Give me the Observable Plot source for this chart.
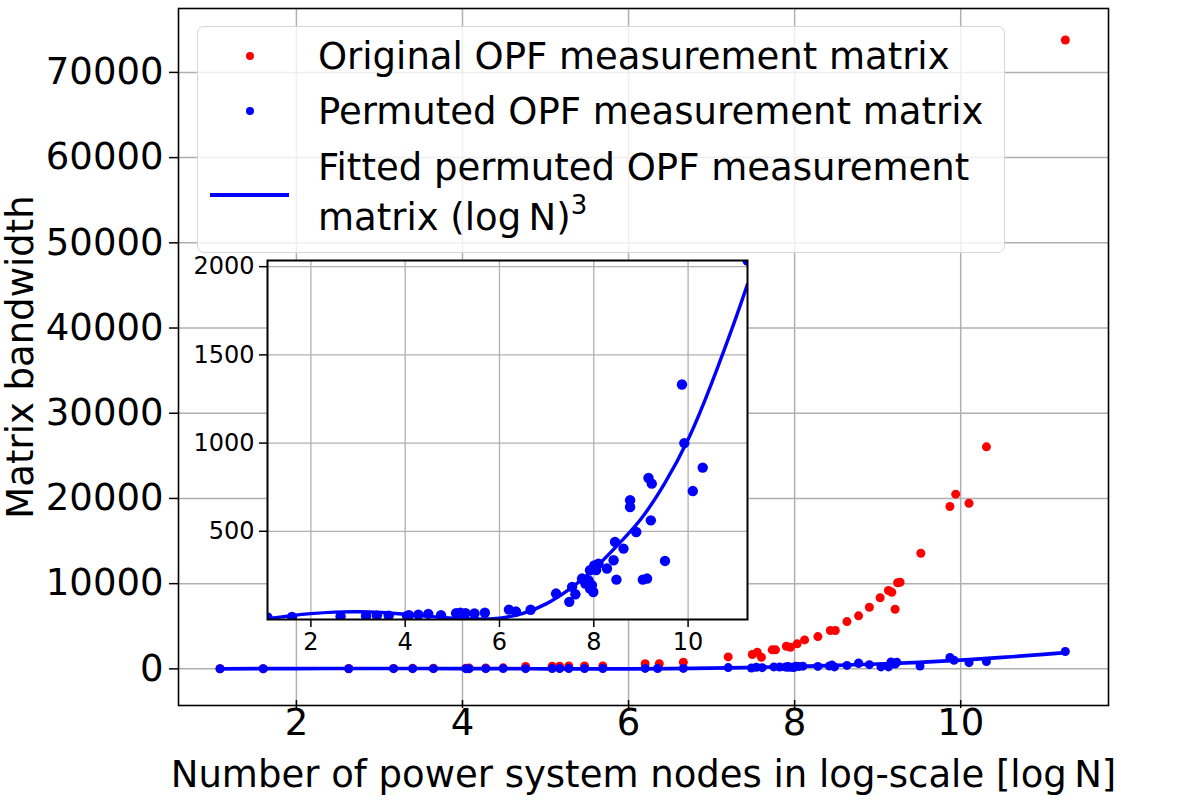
<!DOCTYPE html>
<html>
<head>
<meta charset="utf-8">
<script src="https://cdn.jsdelivr.net/npm/d3@7"></script>
<script src="https://cdn.jsdelivr.net/npm/@observablehq/plot@0.6"></script>
<style>
  html, body { margin: 0; padding: 0; background: white; }
  #wrap { position: relative; width: 1198px; height: 802px; font-family: "DejaVu Sans", sans-serif; }
  #wrap > svg, #wrap > div { position: absolute; }
  #legend { left: 197px; top: 26px; width: 808px; height: 227px; box-sizing: border-box;
    background: rgba(255,255,255,0.8); border: 1.5px solid #d6d6d6; border-radius: 7px; }
  #legend .t { position: absolute; left: 120px; font-size: 37px; line-height: 1; white-space: nowrap; color: #000; transform: translateY(-50%); }
  #legend .d { position: absolute; width: 8px; height: 8px; border-radius: 50%; left: 48px; transform: translateY(-50%); }
  #legend .l { position: absolute; left: 12px; width: 79px; height: 4px; background: blue; transform: translateY(-50%); }
</style>
</head>
<body>
<div id="wrap"></div>
<script>
// ---- data ----
const originalX = [1.08, 1.60, 2.63, 3.17, 3.40, 3.65, 4.04, 4.08, 4.28, 4.49, 4.76, 5.08, 5.17, 5.28, 5.47, 5.69, 6.20, 6.37, 6.66, 7.20, 7.49, 7.55, 7.60, 7.73, 7.77, 7.90, 7.95, 8.03, 8.12, 8.28, 8.43, 8.49, 8.63, 8.77, 8.90, 9.03, 9.13, 9.17, 9.21, 9.24, 9.27, 9.52, 9.87, 9.94, 10.10, 10.31, 11.26];
const originalY = [15, 20, 40, 50, 60, 70, 80, 90, 100, 120, 280, 300, 300, 350, 350, 350, 600, 600, 780, 1400, 1680, 1950, 1360, 2230, 2230, 2650, 2540, 2935, 3400, 3790, 4500, 4500, 5550, 6220, 7230, 8340, 9190, 8990, 7000, 10100, 10170, 13570, 19050, 20500, 19440, 26060, 73800];

const permutedX = [1.08, 1.60, 2.63, 3.17, 3.40, 3.65, 4.04, 4.08, 4.28, 4.49, 4.76, 5.08, 5.17, 5.28, 5.47, 5.69, 6.20, 6.35, 6.66, 7.20, 7.48, 7.54, 7.61, 7.75, 7.82, 7.89, 7.92, 7.96, 7.99, 7.92, 8.01, 8.05, 8.10, 8.28, 8.42, 8.45, 8.48, 8.63, 8.77, 8.77, 8.90, 9.04, 9.13, 9.16, 9.23, 9.21, 9.51, 9.87, 9.92, 10.10, 10.31, 11.26];
const permutedY = [12, 15, 18, 20, 22, 22, 20, 24, 27, 32, 24, 36, 38, 36, 34, 38, 56, 45, 55, 147, 100, 185, 143, 232, 204, 222, 279, 194, 156, 175, 307, 280, 317, 289, 336, 440, 226, 402, 676, 638, 496, 226, 232, 802, 770, 562, 332, 1332, 1000, 728, 861, 2035];

const fitX = [1.08, 1.6, 2.0, 2.5, 3.0, 3.5, 4.0, 4.5, 5.0, 5.5, 6.0, 6.5, 7.0, 7.5, 8.0, 8.5, 9.0, 9.5, 10.0, 10.5, 11.0, 11.26];
const fitY = [5, 22, 33, 42, 44, 40, 30, 18, 8, 3, 8, 35, 90, 175, 285, 420, 570, 770, 1020, 1340, 1700, 1900];

const mainXTicks = [2, 4, 6, 8, 10];
const mainYTicks = [0, 10000, 20000, 30000, 40000, 50000, 60000, 70000];
const insetXTicks = [2, 4, 6, 8, 10];
const insetYTicks = [500, 1000, 1500, 2000];

const labels = {
  x: "Number of power system nodes in log-scale [log\u2009N]",
  y: "Matrix bandwidth",
  original: "Original OPF measurement matrix",
  permuted: "Permuted OPF measurement matrix",
  fitted1: "Fitted permuted OPF measurement",
  fitted2: "matrix (log\u2009N)"
};

// ---- tables ----
const original = originalX.map((x, i) => ({x, y: originalY[i]}));
const permuted = permutedX.map((x, i) => ({x, y: permutedY[i]}));
const fitted = fitX.map((x, i) => ({x, y: fitY[i]}));

const grid = {stroke: "#b0b0b0", strokeOpacity: 1, strokeWidth: 1.5};
const wrap = document.getElementById("wrap");

// ---- main chart ----
const main = Plot.plot({
  width: 1198, height: 802,
  marginLeft: 178, marginRight: 90, marginTop: 8, marginBottom: 97,
  style: {fontFamily: "DejaVu Sans", fontSize: "37px", background: "white", color: "black", overflow: "visible"},
  x: {domain: [0.58, 11.78]},
  y: {domain: [-4300, 77500]},
  marks: [
    Plot.gridX(mainXTicks, grid),
    Plot.gridY(mainYTicks, grid),
    Plot.dot(original, {x: "x", y: "y", r: 4.5, fill: "red", stroke: null}),
    Plot.dot(permuted, {x: "x", y: "y", r: 4.5, fill: "blue", stroke: null}),
    Plot.line(fitted, {x: "x", y: "y", stroke: "blue", strokeWidth: 3.7, curve: "natural"}),
    Plot.frame({stroke: "black", strokeWidth: 1.6}),
    Plot.axisX(mainXTicks, {tickSize: 8, tickPadding: 0, dy: -5, tickFormat: d => String(d), fontSize: 37, label: null, strokeWidth: 1.5}),
    Plot.axisY(mainYTicks, {tickSize: 9, tickPadding: 6, tickFormat: d => String(d), fontSize: 37, label: null, strokeWidth: 1.5}),
    Plot.text([labels.x], {frameAnchor: "bottom", dy: 70, text: d => d, fontSize: 37, lineAnchor: "middle", textAnchor: "middle"}),
    Plot.text([labels.y], {frameAnchor: "left", dx: -157, rotate: -90, text: d => d, fontSize: 37, lineAnchor: "middle", textAnchor: "middle"})
  ]
});
main.style.left = "0px"; main.style.top = "0px";
wrap.appendChild(main);

// ---- legend ----
const legend = document.createElement("div");
legend.id = "legend";
legend.innerHTML = `
  <div class="d" style="top:29px;background:red"></div>
  <div class="t" style="top:29px"></div>
  <div class="d" style="top:84px;background:blue"></div>
  <div class="t" style="top:84px"></div>
  <div class="l" style="top:168px"></div>
  <div class="t" style="top:140px"></div>
  <div class="t" style="top:190px"><span></span><sup style="font-size:26px;vertical-align:0;position:relative;top:-16px">3</sup></div>`;
const ts = legend.querySelectorAll(".t");
ts[0].textContent = labels.original;
ts[1].textContent = labels.permuted;
ts[2].textContent = labels.fitted1;
ts[3].querySelector("span").textContent = labels.fitted2;
wrap.appendChild(legend);

// ---- inset ----
const insetGrid = {stroke: "#b0b0b0", strokeOpacity: 1, strokeWidth: 1.3};
const inset = Plot.plot({
  width: 560, height: 405,
  marginLeft: 75, marginRight: 5, marginTop: 5, marginBottom: 41,
  style: {fontFamily: "DejaVu Sans", fontSize: "24px", background: "transparent", color: "black", overflow: "visible"},
  x: {domain: [1.08, 11.26]},
  y: {domain: [0, 2035]},
  marks: [
    Plot.frame({fill: "white", stroke: null}),
    Plot.gridX(insetXTicks, insetGrid),
    Plot.gridY(insetYTicks, insetGrid),
    Plot.dot(permuted, {x: "x", y: "y", r: 5.2, fill: "blue", stroke: null, clip: true}),
    Plot.line(fitted, {x: "x", y: "y", stroke: "blue", strokeWidth: 3.4, curve: "natural", clip: true}),
    Plot.frame({stroke: "black", strokeWidth: 2}),
    Plot.axisX(insetXTicks, {tickSize: 8, tickPadding: 5, tickFormat: d => String(d), fontSize: 24, label: null, strokeWidth: 1.5}),
    Plot.axisY(insetYTicks, {tickSize: 8, tickPadding: 5, tickFormat: d => String(d), fontSize: 24, label: null, strokeWidth: 1.5})
  ]
});
inset.style.left = "192px"; inset.style.top = "255px";
wrap.appendChild(inset);
</script>
</body>
</html>
